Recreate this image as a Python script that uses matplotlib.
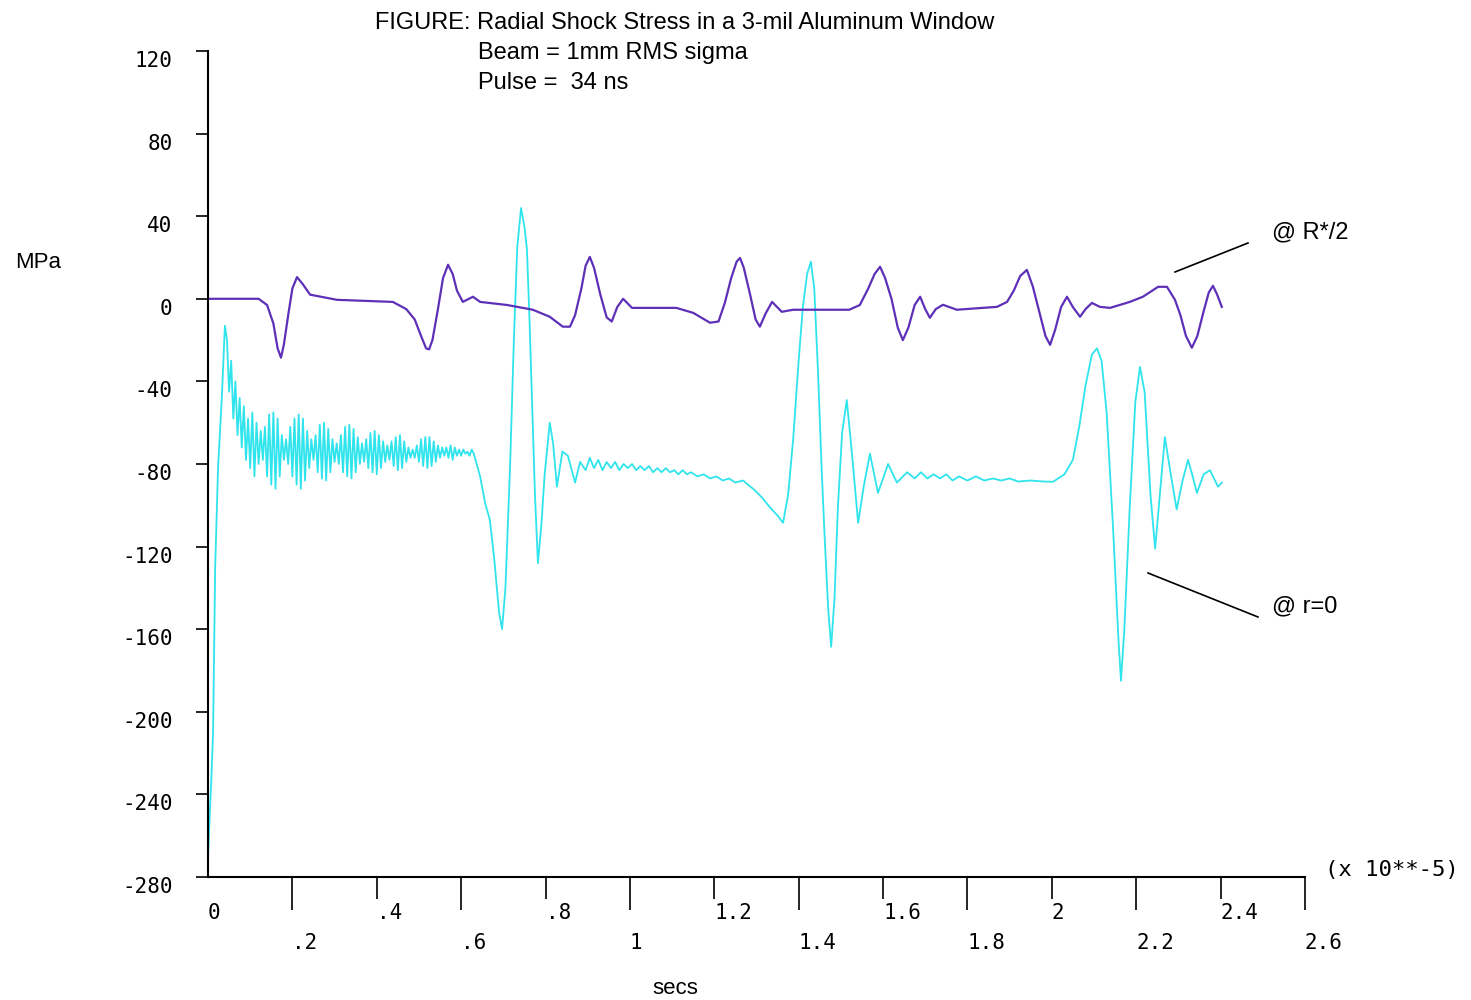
import numpy as np
import matplotlib
matplotlib.use("Agg")
import matplotlib.pyplot as plt
from matplotlib.lines import Line2D

# time axis is in units of 1e-5 s, stress in MPa

# radial stress at R*/2
rhalf_t = [0, 0.12, 0.14, 0.155, 0.165, 0.173, 0.18, 0.19, 0.2, 0.211, 0.225,
           0.242, 0.306, 0.438, 0.47, 0.49, 0.505, 0.517, 0.524, 0.532, 0.545,
           0.557, 0.569, 0.58, 0.59, 0.604, 0.628, 0.645, 0.709, 0.770, 0.81,
           0.841, 0.858, 0.87, 0.885, 0.895, 0.905, 0.915, 0.93, 0.945, 0.957,
           0.97, 0.984, 1.005, 1.11, 1.15, 1.19, 1.21, 1.225, 1.24, 1.253,
           1.261, 1.27, 1.285, 1.298, 1.308, 1.322, 1.337, 1.36, 1.387, 1.52,
           1.545, 1.565, 1.58, 1.593, 1.605, 1.62, 1.635, 1.647, 1.66, 1.675,
           1.688, 1.7, 1.711, 1.725, 1.742, 1.775, 1.87, 1.894, 1.91, 1.925,
           1.941, 1.955, 1.97, 1.985, 1.996, 2.008, 2.022, 2.036, 2.05, 2.067,
           2.08, 2.095, 2.114, 2.138, 2.185, 2.216, 2.252, 2.273, 2.292, 2.305,
           2.318, 2.332, 2.345, 2.36, 2.372, 2.382, 2.392, 2.403]
rhalf_mpa = [0, 0, -3, -12, -24, -28.5, -22, -8, 5, 10.5, 7,
             2, -0.5, -1.5, -5, -10, -18, -24, -24.5, -20, -5,
             10, 16.5, 12, 4, -1.5, 1, -1.5, -3, -5.3, -8.7,
             -13.5, -13.5, -8, 5, 16, 20.3, 15, 2, -9, -11,
             -4, 0, -4.4, -4.4, -6.8, -11.6, -11, -2, 10, 18,
             19.8, 15, 2, -10, -13.5, -7, -1.5, -6.3, -5.3, -5.3,
             -3, 5, 12, 15.5, 10, 0, -14, -20, -14, -3,
             1, -5, -9.2, -5, -2.9, -5.3, -3.9, -1.5, 4, 11,
             14, 6, -6, -18, -22.3, -15, -4, 1, -4, -8.7,
             -5, -2, -3.9, -4.4, -1.5, 1, 5.8, 5.8, -0.5, -8,
             -18, -23.7, -18, -6, 3, 6.3, 2, -3.9]

# radial stress at r=0: initial shock
center_t0 = [0, 0.004, 0.008, 0.012, 0.017, 0.024, 0.033, 0.040]
center_mpa0 = [-272, -250, -232, -210, -130, -81, -47, -13]

# ringing after the shock, sampled every 0.005
ring_mpa = [-20, -45, -30, -58, -40, -66, -48, -72, -52, -78,
            -58, -82, -55, -86, -60, -80, -64, -78, -62, -86,
            -56, -90, -55, -92, -58, -86, -66, -78, -68, -80,
            -62, -86, -58, -90, -56, -92, -58, -88, -64, -82,
            -68, -78, -66, -84, -61, -87, -60, -88, -63, -84,
            -68, -79, -70, -80, -66, -84, -62, -86, -61, -87,
            -63, -84, -67, -80, -70, -79, -68, -82, -65, -84,
            -64, -85, -66, -82, -69, -79, -71, -78, -69, -81,
            -67, -83, -66, -82, -69, -79, -72, -77, -73, -77,
            -71, -79, -68, -81, -67, -82, -67, -81, -69, -79,
            -71, -77, -72, -76, -72, -77, -71, -78, -72, -76,
            -73, -76, -73, -75, -74, -76, -73, -75]
ring_t = np.linspace(0.045, 0.630, len(ring_mpa))

# reflected waves and later ringing
center_t1 = [0.645, 0.657, 0.668, 0.678, 0.69, 0.697, 0.705, 0.716, 0.725,
             0.733, 0.742, 0.75, 0.756, 0.762, 0.768, 0.775, 0.782, 0.79,
             0.798, 0.81, 0.818, 0.827, 0.84, 0.853, 0.87, 0.882,
             0.895, 0.905, 0.915, 0.925, 0.935, 0.945, 0.955, 0.965, 0.975,
             0.985, 0.995, 1.005, 1.015, 1.025, 1.035, 1.045, 1.055, 1.065,
             1.075, 1.085, 1.095, 1.105, 1.115, 1.125, 1.135, 1.145, 1.16,
             1.175, 1.19, 1.205, 1.22, 1.235, 1.25, 1.268, 1.292, 1.312,
             1.332, 1.35, 1.363, 1.375, 1.387, 1.40, 1.41, 1.42, 1.429, 1.437,
             1.446, 1.455, 1.462, 1.47, 1.477, 1.485, 1.493, 1.503, 1.514,
             1.525, 1.541, 1.555, 1.569, 1.588, 1.612, 1.633, 1.657, 1.675,
             1.69, 1.705, 1.72, 1.735, 1.75, 1.765, 1.78, 1.80, 1.82, 1.84,
             1.86, 1.88, 1.90, 1.92, 1.95, 1.98, 2.003, 2.03, 2.05, 2.065,
             2.08, 2.095, 2.107, 2.118, 2.13, 2.145, 2.158, 2.164, 2.172,
             2.185, 2.198, 2.209, 2.22, 2.234, 2.245, 2.256, 2.268, 2.282,
             2.296, 2.31, 2.323, 2.334, 2.344, 2.36, 2.375, 2.394, 2.403]
center_mpa1 = [-86, -99, -107, -125, -152, -160, -140, -81, -20,
               25, 44, 35, 24, -10, -49, -95, -128, -110,
               -85, -60, -70, -91, -74, -76, -89, -79,
               -83, -77, -82, -78, -83, -79, -82, -79, -83,
               -80, -82, -80, -83, -81, -83, -81, -84, -82,
               -84, -82, -84, -83, -85, -83, -85, -84, -86,
               -85, -87, -86, -88, -87, -89, -88, -92, -96,
               -101, -105, -108.5, -95, -68, -30, -4, 12, 18, 5,
               -36, -85, -117, -150, -168.5, -145, -101, -65, -49,
               -72, -108.5, -90, -75, -94, -80, -89, -84, -87,
               -84, -87, -85, -87, -85, -88, -86, -88, -86, -88,
               -87, -88, -87, -88.5, -88, -88.5, -88.6, -85, -78, -62,
               -42, -27, -24, -30, -55, -110, -165, -185, -160,
               -100, -50, -33, -45, -95, -121, -95, -67, -85,
               -102, -88, -78, -86, -94, -85, -83, -91, -89]

center_t = np.concatenate([center_t0, ring_t, center_t1])
center_mpa = np.concatenate([center_mpa0, ring_mpa, center_mpa1])

ytick_vals = [-280, -240, -200, -160, -120, -80, -40, 0, 40, 80, 120]
xtick_upper = [0, 0.4, 0.8, 1.2, 1.6, 2.0, 2.4]
xtick_upper_lbl = ["0", ".4", ".8", "1.2", "1.6", "2", "2.4"]
xtick_lower = [0.2, 0.6, 1.0, 1.4, 1.8, 2.2, 2.6]
xtick_lower_lbl = [".2", ".6", "1", "1.4", "1.8", "2.2", "2.6"]

PURPLE = "#5e30b8"
CYAN = "#2fe4ec"
MONO = "DejaVu Sans Mono"
SANS = ["Liberation Sans Narrow", "Liberation Sans", "DejaVu Sans"]

fig = plt.figure(figsize=(14.71, 10), dpi=100)
ax = fig.add_axes([0.1414, 0.123, 0.7457, 0.826])

ax.plot(center_t, center_mpa, color=CYAN, lw=1.3)
ax.plot(rhalf_t, rhalf_mpa, color=PURPLE, lw=1.6)

ax.set_xlim(0, 2.6)
ax.set_ylim(-280, 120)
ax.spines["top"].set_visible(False)
ax.spines["right"].set_visible(False)
for s in ("left", "bottom"):
    ax.spines[s].set_linewidth(1.5)

# y ticks point left, labels hang just below the tick
ax.set_yticks(ytick_vals)
ax.set_yticklabels([str(v) for v in ytick_vals], fontfamily=MONO, fontsize=15)
ax.tick_params(axis="y", direction="out", length=8.5, width=1.2, pad=17)
for lab in ax.get_yticklabels():
    lab.set_va("top")

# x labels on two staggered rows: short ticks on top row, long on bottom
ax.set_xticks(xtick_lower)
ax.set_xticklabels(xtick_lower_lbl, fontfamily=MONO, fontsize=15, ha="left")
ax.set_xticks(xtick_upper, minor=True)
ax.set_xticklabels(xtick_upper_lbl, minor=True, fontfamily=MONO, fontsize=15, ha="left")
ax.tick_params(axis="x", which="major", direction="out", length=24, width=1.2, pad=16)
ax.tick_params(axis="x", which="minor", direction="out", length=16, width=1.2, pad=3)
ax.xaxis.get_minor_ticks()[0].tick1line.set_visible(False)


def px(x, y):
    return x / 1471, 1 - y / 1000


fig.text(*px(375, 23), "FIGURE: Radial Shock Stress in a 3-mil Aluminum Window",
         family=SANS, fontsize=17, va="center")
fig.text(*px(478, 53), "Beam = 1mm RMS sigma", family=SANS, fontsize=17, va="center")
fig.text(*px(478, 83), "Pulse =  34 ns", family=SANS, fontsize=17, va="center")
fig.text(*px(15, 262), "MPa", family=SANS, fontsize=16, va="center")
fig.text(*px(675, 988), "secs", family=SANS, fontsize=16, va="center", ha="center")
fig.text(*px(1325, 870), "(x 10**-5)", family=MONO, fontsize=16, va="center")

# curve labels with leader lines
fig.text(*px(1272, 232), "@ R*/2", family=SANS, fontsize=17, va="center")
fig.text(*px(1272, 606), "@ r=0", family=SANS, fontsize=17, va="center")
for (x1, y1), (x2, y2) in [((1175, 272), (1248, 243)), ((1148, 573), (1258, 617))]:
    a, b = px(x1, y1)
    c, d = px(x2, y2)
    fig.add_artist(Line2D([a, c], [b, d], transform=fig.transFigure, color="black", lw=1.2))

fig.savefig("out.png", dpi=100)
